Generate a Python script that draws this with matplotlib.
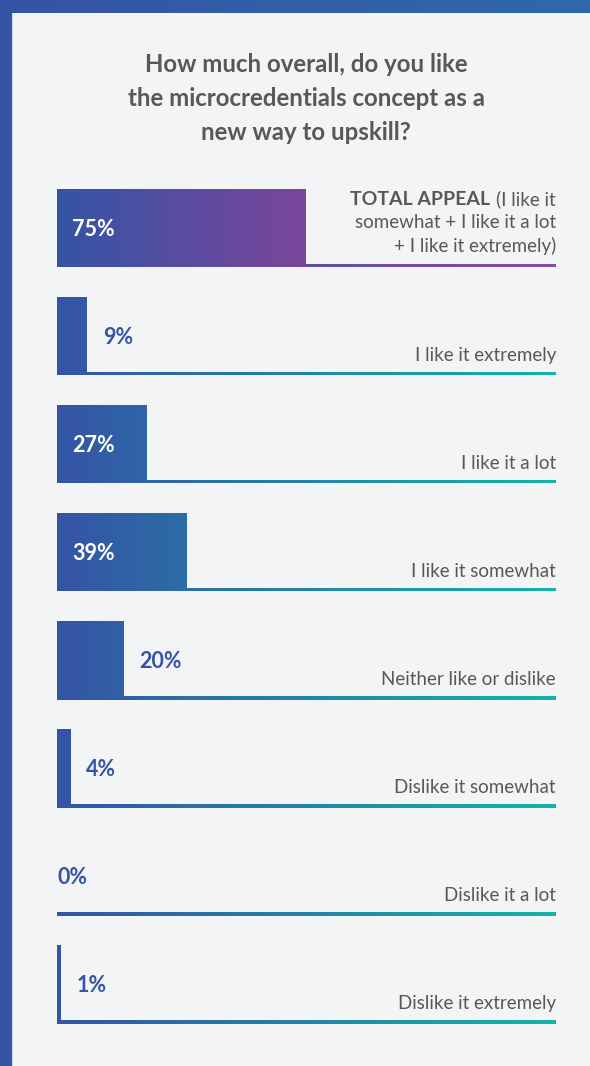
import numpy as np
import matplotlib
matplotlib.use("Agg")
import matplotlib.pyplot as plt
from matplotlib.colors import LinearSegmentedColormap
from matplotlib.patches import Rectangle

plt.rcParams["font.family"] = ["Lato", "DejaVu Sans"]

title_lines = ["How much overall, do you like",
               "the microcredentials concept as a",
               "new way to upskill?"]
categories = ["TOTAL APPEAL", "I like it extremely", "I like it a lot",
              "I like it somewhat", "Neither like or dislike",
              "Dislike it somewhat", "Dislike it a lot", "Dislike it extremely"]
total_note = ["(I like it", "somewhat + I like it a lot", "+ I like it extremely)"]
values = [75, 9, 27, 39, 20, 4, 0, 1]

W, H = 590, 1066
bg = "#f3f4f6"
blue = "#3554a5"
grey = "#56585a"

teal_map = LinearSegmentedColormap.from_list("bt", [blue, "#12b5a8"])
purple_bar = LinearSegmentedColormap.from_list("bp", [blue, "#7b469b"])
purple_line = LinearSegmentedColormap.from_list("bpl", [blue, "#8a4ca2"])
frame_map = LinearSegmentedColormap.from_list("fr", [blue, "#2f69aa"])


def px(x, y, w, h):
    # pixel box (from top-left) -> figure fraction rect
    return [x / W, 1 - (y + h) / H, w / W, h / H]


fig = plt.figure(figsize=(W / 100, H / 100), dpi=100, facecolor=bg)

# frame: blue strip on the left, gradient strip on top
fig.add_artist(Rectangle((0, 0), 11 / W, 1, transform=fig.transFigure,
                         color=blue, zorder=0))
top = fig.add_axes(px(0, 0, W, 13))
top.imshow(np.linspace(0, 1, 256).reshape(1, -1), cmap=frame_map,
           aspect="auto", extent=(0, 1, 0, 1))
top.axis("off")

for line, base in zip(title_lines, [72, 106, 140]):
    fig.text(306 / W, 1 - base / H, line, ha="center", va="baseline",
             fontsize=17.3, fontweight="bold", color=grey)

# bar area: 100% = 332 px, rows 108 px apart
ax = fig.add_axes(px(57, 174, 499, 864))
xmax = 499 / 3.32
n = len(values)
row = 108.0
half = 39 / row
line_off = 38 / row
line_w = 3 / row

bars = ax.barh(range(n), values, height=2 * half, color="none", linewidth=0)

grad = np.linspace(0, 1, 256).reshape(1, -1)
for i, (v, bar) in enumerate(zip(values, bars)):
    y = i + line_off
    # gradient underline across the full width
    ax.imshow(grad, cmap=purple_line if i == 0 else teal_map, aspect="auto",
              zorder=1, extent=(0, xmax, y + line_w / 2, y - line_w / 2))

    if v > 0:
        if i == 0:
            im = ax.imshow(grad, cmap=purple_bar, aspect="auto", zorder=2,
                           extent=(0, v, i + half, i - half))
        else:
            im = ax.imshow(grad, cmap=teal_map, aspect="auto", zorder=2,
                           extent=(0, xmax, i + half, i - half))
        im.set_clip_path(bar)

    if v >= 25:
        ax.annotate(f"{v}%", xy=(0, i), xytext=(15, -2), textcoords="offset pixels",
                    ha="left", va="center", fontsize=15.5, fontweight="bold",
                    color="white", zorder=3)
    else:
        ax.annotate(f"{v}%", xy=(v, i), xytext=(16 if v > 0 else 0, -2),
                    textcoords="offset pixels", ha="left", va="center",
                    fontsize=15.5, fontweight="bold", color=blue, zorder=3)

    if i > 0:
        ax.text(xmax, y - 13 / row, categories[i], ha="right", va="baseline",
                fontsize=13.5, color=grey)

# multi-line label for the total row
offsets = [-23, 0, 24]
note_texts = []
for line, off in zip(total_note, offsets):
    t = ax.text(xmax, off / row, line, ha="right", va="baseline",
                fontsize=13.5, color=grey)
    note_texts.append(t)
ax.annotate(categories[0], xy=(0, offsets[0] / row),
            xycoords=(note_texts[0], "data"), xytext=(-6, 0),
            textcoords="offset pixels", ha="right", va="baseline",
            fontsize=14, fontweight="bold", color=grey)

ax.set_xlim(0, xmax)
ax.set_ylim(n - 0.5, -0.5)
ax.axis("off")

fig.savefig("out.png", dpi=100, facecolor=bg)
